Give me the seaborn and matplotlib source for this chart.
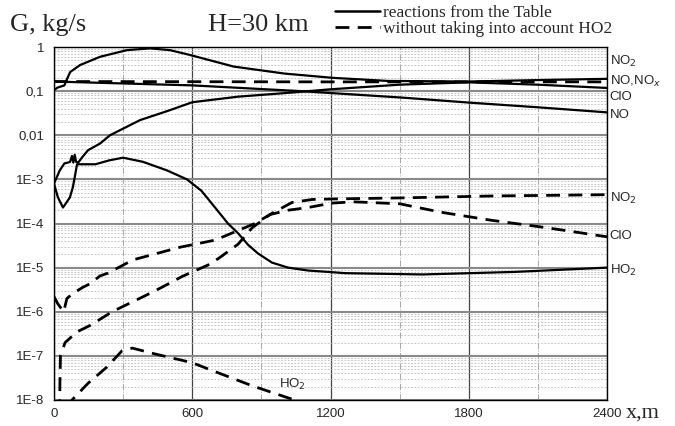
import numpy as np
import pandas as pd
import seaborn as sns
import matplotlib
matplotlib.use('Agg')
import matplotlib.pyplot as plt
from matplotlib.lines import Line2D
from matplotlib.ticker import FixedLocator, FixedFormatter, LogLocator, NullFormatter, MultipleLocator

# --- solid curves: reactions from the Table ---
no2_x = [0, 15, 45, 55, 70, 113, 200, 317, 417, 503, 590, 780, 1000, 1210, 1450, 1800, 2100, 2400]
no2_g = [0.105, 0.12, 0.135, 0.18, 0.27, 0.39, 0.6, 0.85, 0.93, 0.85, 0.66, 0.36, 0.25, 0.2, 0.17, 0.165, 0.178, 0.19]

no_x = [0, 600, 1070, 1500, 1800, 2100, 2400]
no_g = [0.165, 0.135, 0.1, 0.072, 0.055, 0.043, 0.033]

clo_x = [0, 25, 45, 60, 70, 78, 84, 90, 96, 105, 125, 148, 200, 243, 373, 503, 600, 800, 1000, 1200, 1500, 1800, 2100, 2400]
clo_g = [8e-4, 1.6e-3, 2.3e-3, 2.4e-3, 2.5e-3, 3.4e-3, 2.4e-3, 3.6e-3, 2.5e-3, 2.4e-3, 3.3e-3, 4.6e-3, 6.5e-3, 1e-2,
         2.2e-2, 3.7e-2, 5.6e-2, 7.5e-2, 9e-2, 0.11, 0.14, 0.158, 0.14, 0.118]

ho2_x = [0, 17, 39, 69, 82, 91, 100, 130, 180, 240, 300, 386, 490, 577, 640, 699, 755, 799, 842, 885, 946, 1016,
         1102, 1189, 1263, 1600, 2000, 2400]
ho2_g = [8e-4, 3.9e-4, 2.3e-4, 3.9e-4, 6.7e-4, 1.2e-3, 2.2e-3, 2.2e-3, 2.2e-3, 2.7e-3, 3.1e-3, 2.5e-3, 1.6e-3, 1e-3,
         5.5e-4, 2.3e-4, 1e-4, 6e-5, 3.3e-5, 2.1e-5, 1.3e-5, 1e-5, 8.6e-6, 8e-6, 7.5e-6, 7e-6, 8e-6, 1e-5]

# --- dashed curves: without taking into account HO2 ---
nox_d_x = [0, 1200, 2400]
nox_d_g = [0.165, 0.162, 0.162]

no2_d_x = [0, 17, 42, 56, 82, 126, 156, 200, 234, 343, 547, 699, 786, 872, 946, 1033, 1120, 1210, 1500, 1900, 2400]
no2_d_g = [2.2e-6, 1.5e-6, 1e-6, 2e-6, 2.6e-6, 3.6e-6, 4.3e-6, 6.5e-6, 7.5e-6, 1.5e-5, 2.9e-5, 4.2e-5, 6.5e-5, 1e-4,
           1.7e-4, 3e-4, 3.5e-4, 3.6e-4, 3.8e-4, 4.2e-4, 4.5e-4]

clo_d_x = [24, 26, 28, 48, 100, 160, 252, 395, 469, 556, 677, 720, 799, 860, 938, 1016, 1102, 1206, 1300, 1500, 1680,
           1890, 2140, 2400]
clo_d_g = [5e-9, 3e-8, 1e-7, 2e-7, 3.5e-7, 5e-7, 1e-6, 2.3e-6, 3.6e-6, 6.3e-6, 1.2e-5, 1.7e-5, 3.4e-5, 8e-5, 1.6e-4,
           2e-4, 2.3e-4, 2.9e-4, 3.1e-4, 2.8e-4, 1.8e-4, 1.2e-4, 8e-5, 5e-5]

ho2_d_x = [70, 78, 148, 230, 295, 340, 440, 600, 680, 860, 1020, 1100]
ho2_d_g = [6e-9, 1e-8, 2.4e-8, 5.6e-8, 1.3e-7, 1.5e-7, 1.1e-7, 7e-8, 4.8e-8, 2.1e-8, 1.1e-8, 8e-9]

y_ticks = [1e-8, 1e-7, 1e-6, 1e-5, 1e-4, 1e-3, 1e-2, 1e-1, 1]
y_labels = ['1E-8', '1E-7', '1E-6', '1E-5', '1E-4', '1E-3', '0,01', '0,1', '1']
x_ticks = [0, 600, 1200, 1800, 2400]

sns.set_style('white')
plt.rcParams['font.family'] = ['Liberation Sans', 'DejaVu Sans']
SERIF = ['Liberation Serif', 'DejaVu Serif']

fig = plt.figure(figsize=(6.75, 4.26), dpi=100)
ax = fig.add_axes([54 / 675, 1 - 400 / 426, 553 / 675, 353 / 426])

DASH = (0, (5, 3))
solid = [(no2_x, no2_g), (no_x, no_g), (clo_x, clo_g), (ho2_x, ho2_g)]
dashed = [(nox_d_x, nox_d_g), (no2_d_x, no2_d_g), (clo_d_x, clo_d_g), (ho2_d_x, ho2_d_g)]
for xs, gs in solid:
    sns.lineplot(x=xs, y=gs, ax=ax, color='black', lw=1.6, errorbar=None, zorder=5)
for xs, gs in dashed:
    sns.lineplot(x=xs, y=gs, ax=ax, color='black', lw=2.0, linestyle=DASH, errorbar=None, zorder=5)

ax.set_yscale('log')
ax.set_xlim(0, 2400)
ax.set_ylim(1e-8, 1)
ax.set_xlabel('')
ax.set_ylabel('')

ax.yaxis.set_major_locator(FixedLocator(y_ticks))
ax.yaxis.set_major_formatter(FixedFormatter(y_labels))
ax.yaxis.set_minor_locator(LogLocator(base=10, subs=np.arange(2, 10), numticks=20))
ax.yaxis.set_minor_formatter(NullFormatter())
ax.xaxis.set_major_locator(FixedLocator(x_ticks))
ax.xaxis.set_minor_locator(MultipleLocator(300))

ax.tick_params(which='both', direction='in', color='black')
ax.tick_params(which='major', length=4, width=0.8, labelsize=9.5)
ax.tick_params(which='minor', length=3, width=0.6)
ax.tick_params(axis='y', pad=7)
ax.tick_params(axis='x', pad=6)

ax.yaxis.grid(True, which='major', color='#8a8a8a', lw=1.5)
ax.yaxis.grid(True, which='minor', color='#b8b8b8', lw=0.6, linestyle=(0, (2, 2)))
ax.xaxis.grid(True, which='major', color='#444444', lw=0.9)
ax.xaxis.grid(True, which='minor', color='#a8a8a8', lw=0.7, linestyle='-.')
ax.set_axisbelow(True)
for sp in ax.spines.values():
    sp.set_color('black')
    sp.set_linewidth(1.0)

# curve labels on the right
right = [('NO$_2$', 0.46), ('NO,NO$_x$', 0.17), ('ClO', 0.073), ('NO', 0.029),
         ('NO$_2$', 3.7e-4), ('ClO', 5.2e-5), ('HO$_2$', 8.8e-6)]
for txt, yv in right:
    ax.text(2412, yv, txt, fontsize=9.5, ha='left', va='center', clip_on=False)
ax.text(1033, 2.2e-8, 'HO$_2$', fontsize=9.5, ha='center', va='center')

fig.text(10 / 675, 1 - 31 / 426, 'G, kg/s', fontsize=19, family=SERIF, va='baseline')
fig.text(208 / 675, 1 - 31 / 426, 'H=30 km', fontsize=19, family=SERIF, va='baseline')
fig.text(626 / 675, 1 - 418 / 426, 'x,m', fontsize=16, family=SERIF, va='baseline')

handles = [Line2D([], [], color='black', lw=1.8),
           Line2D([], [], color='black', lw=2.0, linestyle=DASH)]
fig.legend(handles, ['reactions from the Table', 'without taking into account HO2'],
           loc='upper left', bbox_to_anchor=(333 / 675, 1 - 3 / 426), frameon=False,
           prop={'family': SERIF, 'size': 12.5}, handlelength=2.6, handletextpad=0.2,
           labelspacing=0.0, borderpad=0.1, borderaxespad=0)

fig.savefig('out.png', dpi=100)
